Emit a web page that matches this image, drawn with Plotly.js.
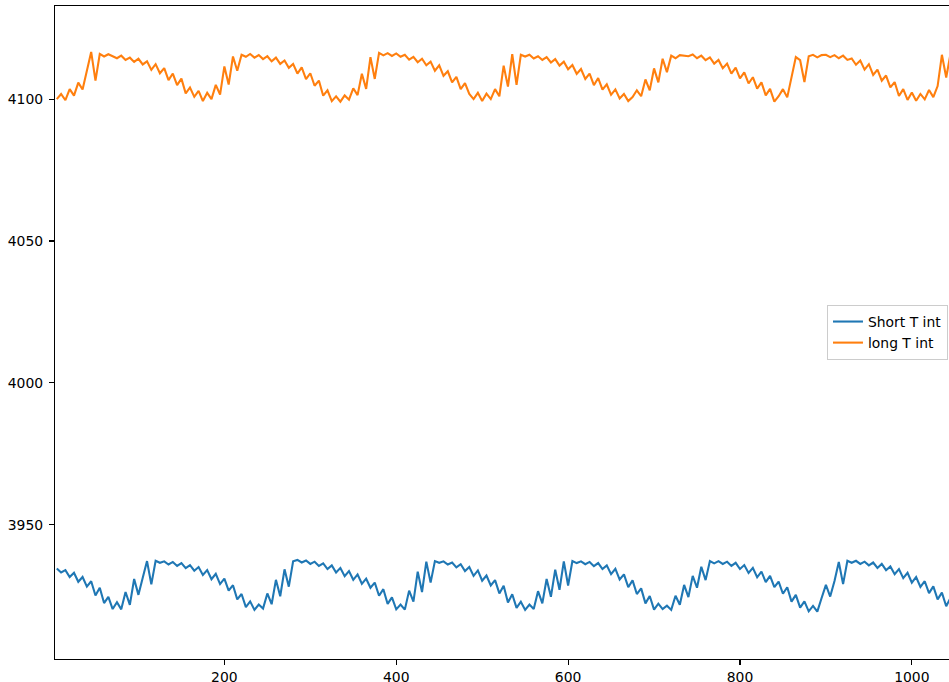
<!DOCTYPE html>
<html>
<head>
<meta charset="utf-8">
<script src="https://cdn.plot.ly/plotly-3.0.1.min.js"></script>
<style>
html, body { margin: 0; padding: 0; overflow: hidden; background: #fff; }
#chart { width: 960px; height: 682px; }
</style>
</head>
<body>
<div id="chart"></div>
<script>
const sampleIdx = [5,10,15,20,25,30,35,40,45,50,55,60,65,70,75,80,85,90,95,100,
105,110,115,120,125,130,135,140,145,150,155,160,165,170,175,180,185,190,195,200,
205,210,215,220,225,230,235,240,245,250,255,260,265,270,275,280,285,290,295,300,
305,310,315,320,325,330,335,340,345,350,355,360,365,370,375,380,385,390,395,400,
405,410,415,420,425,430,435,440,445,450,455,460,465,470,475,480,485,490,495,500,
505,510,515,520,525,530,535,540,545,550,555,560,565,570,575,580,585,590,595,600,
605,610,615,620,625,630,635,640,645,650,655,660,665,670,675,680,685,690,695,700,
705,710,715,720,725,730,735,740,745,750,755,760,765,770,775,780,785,790,795,800,
805,810,815,820,825,830,835,840,845,850,855,860,865,870,875,880,885,890,895,900,
905,910,915,920,925,930,935,940,945,950,955,960,965,970,975,980,985,990,995,1000,
1005,1010,1015,1020,1025,1030,1035,1040,1045];

const shortTInt = [3934.6,3933.2,3934.0,3931.6,3933.1,3929.9,3931.6,3928.2,3930.1,3925.1,
3927.8,3922.4,3924.6,3920.3,3922.7,3920.2,3926.3,3921.8,3930.9,3925.3,
3931.3,3937.2,3929.0,3937.3,3936.6,3937.1,3936.0,3936.9,3935.5,3936.5,
3934.7,3935.8,3933.8,3935.1,3932.3,3934.0,3930.8,3932.7,3929.1,3931.0,
3926.8,3928.7,3923.7,3925.6,3921.0,3923.0,3920.0,3921.9,3920.5,3925.8,
3922.0,3930.6,3924.8,3934.3,3928.2,3937.1,3937.6,3936.7,3937.4,3936.2,
3937.0,3935.5,3936.4,3934.4,3935.7,3933.2,3934.8,3931.9,3933.7,3930.6,
3932.5,3929.2,3931.0,3927.8,3929.6,3925.0,3927.3,3922.1,3924.4,3920.2,
3921.9,3920.1,3926.8,3922.9,3933.5,3926.3,3937.0,3929.6,3937.2,3936.6,
3937.1,3936.0,3936.7,3935.0,3936.1,3933.7,3935.1,3932.0,3933.9,3930.3,
3932.1,3928.6,3930.5,3925.8,3928.5,3922.6,3925.5,3920.7,3922.9,3920.0,
3921.9,3920.3,3926.6,3922.3,3930.9,3924.6,3934.2,3927.1,3937.1,3928.6,
3937.2,3936.5,3937.1,3936.1,3936.9,3935.4,3936.5,3934.4,3935.7,3932.6,
3934.5,3930.7,3932.5,3928.0,3930.4,3925.6,3927.6,3922.3,3924.9,3920.1,
3922.2,3920.3,3921.5,3920.0,3925.0,3921.8,3928.8,3924.5,3932.0,3927.8,
3935.2,3930.5,3937.2,3936.4,3937.2,3936.2,3937.0,3935.5,3936.6,3934.4,
3935.8,3933.0,3934.8,3931.5,3933.5,3929.8,3932.0,3928.0,3930.0,3925.7,
3928.0,3922.9,3925.3,3920.8,3923.0,3919.5,3921.4,3919.4,3924.2,3928.8,
3924.7,3930.2,3936.9,3929.1,3937.3,3936.6,3937.3,3936.2,3937.0,3935.7,
3936.7,3934.8,3936.2,3934.0,3935.3,3932.6,3934.4,3931.2,3933.1,3929.6,
3931.6,3928.1,3930.1,3925.9,3928.3,3923.7,3926.1,3921.3,3924.3];

const longTInt = [4100.0,4101.8,4099.6,4103.5,4101.2,4105.8,4103.4,4109.9,4116.6,4106.5,
4115.9,4115.0,4115.8,4115.1,4114.4,4115.3,4113.8,4114.6,4113.1,4114.2,
4112.2,4113.3,4110.3,4112.3,4109.1,4110.9,4106.7,4109.0,4104.9,4107.2,
4102.0,4104.1,4100.8,4102.9,4099.3,4102.2,4100.0,4105.0,4101.6,4111.5,
4105.1,4115.0,4110.0,4115.6,4114.9,4115.9,4114.6,4115.5,4114.1,4115.1,
4113.3,4114.6,4112.4,4113.6,4111.0,4112.4,4109.0,4111.2,4107.0,4109.1,
4104.7,4106.5,4101.2,4103.1,4099.3,4101.0,4099.1,4101.3,4099.8,4103.8,
4101.4,4108.9,4103.6,4114.8,4107.1,4116.3,4115.4,4116.2,4115.2,4116.1,
4114.9,4115.6,4113.9,4114.9,4113.0,4114.2,4111.9,4113.2,4110.0,4111.9,
4108.2,4109.8,4105.9,4107.8,4103.5,4105.6,4101.8,4100.0,4102.2,4099.3,
4101.9,4100.0,4103.5,4101.0,4111.8,4104.4,4115.8,4105.0,4115.6,4115.0,
4115.6,4114.3,4115.1,4113.8,4114.8,4112.9,4114.1,4111.8,4113.2,4110.5,
4112.0,4108.9,4110.6,4107.1,4109.0,4104.9,4107.4,4103.3,4105.2,4101.5,
4103.4,4100.2,4101.8,4099.3,4100.7,4103.1,4101.0,4106.9,4103.1,4110.8,
4105.9,4114.2,4109.5,4115.3,4114.4,4115.5,4115.2,4115.1,4115.7,4114.4,
4115.3,4113.7,4114.7,4112.5,4113.8,4110.9,4112.5,4109.0,4111.1,4107.3,
4109.4,4105.5,4107.7,4103.7,4105.9,4101.3,4103.6,4099.1,4101.0,4103.5,
4100.6,4107.6,4114.8,4113.7,4106.0,4115.1,4115.6,4114.7,4115.5,4115.6,
4114.8,4115.5,4114.4,4115.3,4113.8,4114.3,4112.1,4113.6,4110.4,4112.3,
4108.5,4110.4,4106.5,4108.3,4104.1,4106.0,4101.1,4103.5,4099.7,4102.3,
4099.4,4101.8,4099.9,4103.2,4100.7,4104.6,4115.6,4107.6,4116.0];

const seriesNames = ['Short T int', 'long T int'];
const seriesColors = ['#1f77b4', '#ff7f0e'];
const xTicks = [200, 400, 600, 800, 1000];
const yTicks = [3950, 4000, 4050, 4100];

const font = { family: 'DejaVu Sans, sans-serif', size: 13.9, color: '#000' };

const traces = [shortTInt, longTInt].map((ys, i) => ({
  type: 'scatter',
  mode: 'lines',
  x: sampleIdx,
  y: ys,
  name: seriesNames[i],
  line: { color: seriesColors[i], width: 2.08 }
}));

const axisCommon = {
  showgrid: false,
  zeroline: false,
  showline: true,
  mirror: true,
  linecolor: '#000',
  linewidth: 1.1,
  ticks: 'outside',
  ticklen: 5,
  tickwidth: 1.1,
  tickcolor: '#000',
  tickfont: font
};

const layout = {
  width: 960,
  height: 682,
  margin: { l: 55, r: 7, t: 6, b: 23 },
  paper_bgcolor: '#fff',
  plot_bgcolor: '#fff',
  font: font,
  showlegend: true,
  legend: {
    x: 0.9944, xanchor: 'right',
    y: 0.5, yanchor: 'middle',
    bgcolor: 'rgba(255,255,255,0.8)',
    bordercolor: '#cccccc',
    borderwidth: 1,
    font: font,
    tracegroupgap: 0
  },
  xaxis: Object.assign({}, axisCommon, {
    range: [2.9, 1047.9],
    tickmode: 'array',
    tickvals: xTicks,
    ticktext: xTicks.map(String)
  }),
  yaxis: Object.assign({}, axisCommon, {
    range: [3902.7, 4132.8],
    tickmode: 'array',
    tickvals: yTicks,
    ticktext: yTicks.map(String),
    ticklabelstandoff: 3
  })
};

Plotly.newPlot('chart', traces, layout, { displayModeBar: false, staticPlot: true });
</script>
</body>
</html>
